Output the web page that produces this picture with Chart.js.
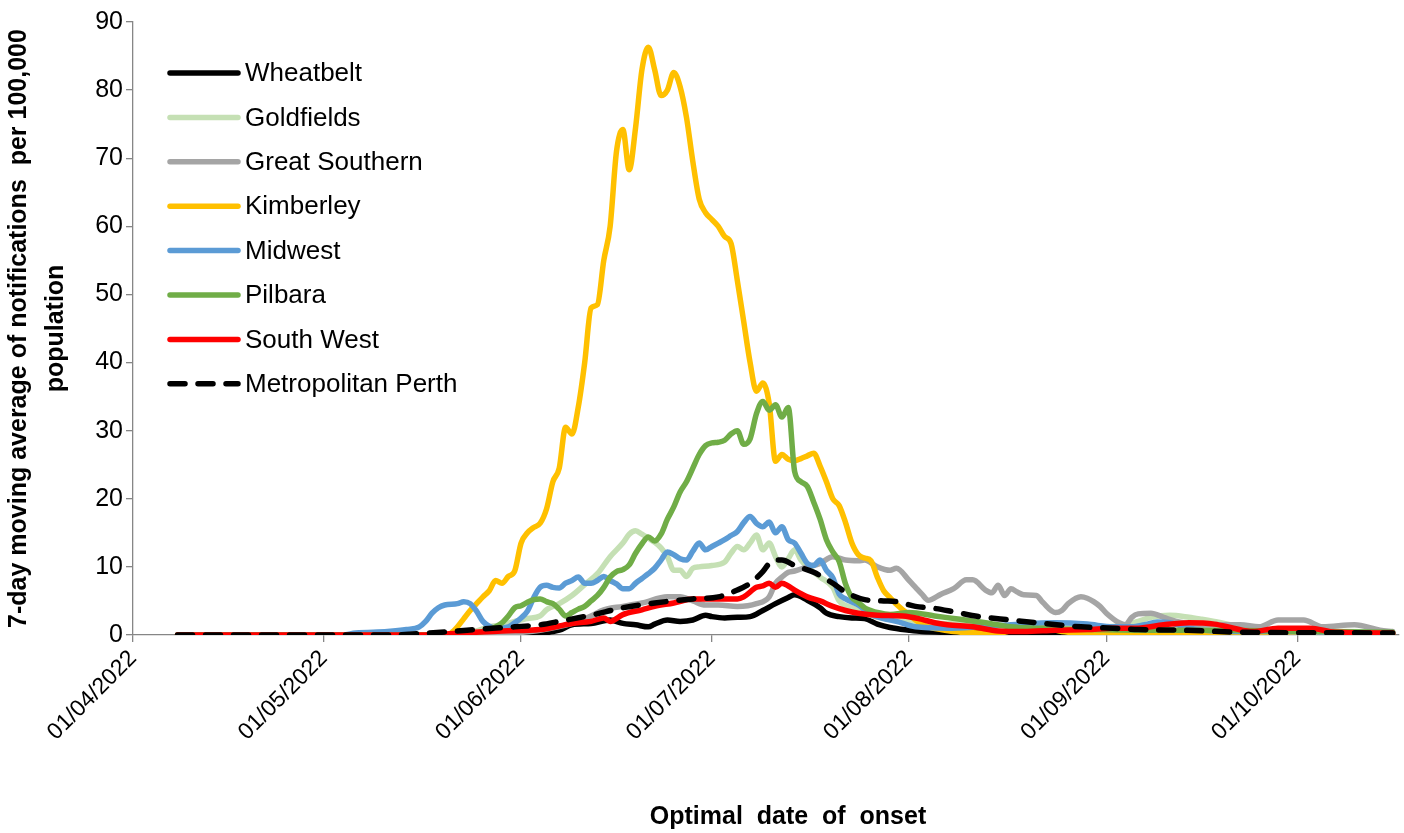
<!DOCTYPE html>
<html>
<head>
<meta charset="utf-8">
<title>7-day moving average of notifications per 100,000 population</title>
<script src="https://cdn.jsdelivr.net/npm/chart.js@4.4.1/dist/chart.umd.min.js"></script>
<style>
  html, body { margin: 0; padding: 0; background: #fff; }
  #wrap { width: 1404px; height: 833px; position: relative; }
</style>
</head>
<body>
<div id="wrap"><canvas id="myChart"></canvas></div>
<script>
// x values are days since 01/04/2022
const monthTickDays = [0, 30, 61, 91, 122, 153, 183];
const monthTickLabels = ["01/04/2022", "01/05/2022", "01/06/2022", "01/07/2022", "01/08/2022", "01/09/2022", "01/10/2022"];

const seriesNames = ["Wheatbelt", "Goldfields", "Great Southern", "Kimberley", "Midwest", "Pilbara", "South West", "Metropolitan Perth"];
const seriesColors = ["#000000", "#C5E0B4", "#A5A5A5", "#FFC000", "#5B9BD5", "#70AD47", "#FF0000", "#000000"];

// [day, value] pairs
const wheatbelt = [[7,0],[62,0],[64,0.2],[66,0.5],[67,0.7],[69,1.5],[72,1.7],[75,2.2],[77,1.7],[79,1.5],[81,1.2],[82,1.6],[84,2.2],[86,2.0],[88,2.2],[90,2.9],[91,2.7],[93,2.5],[95,2.6],[97,2.7],[99,3.6],[101,4.6],[103,5.5],[104,5.9],[106,5.1],[108,4.0],[109,3.2],[111,2.7],[113,2.5],[115,2.4],[117,1.6],[119,1.1],[122,0.7],[124,0.5],[128,0.4],[140,0.3],[198,0.2]];

const goldfields = [[7,0],[50,0],[54,0.6],[56,1.2],[58,1.5],[60,2.0],[62,2.4],[64,2.8],[65,3.7],[67,4.6],[69,5.8],[71,7.4],[73,9.0],[75,11.5],[77,13.5],[78,14.8],[79,15.3],[80,14.8],[81,14.2],[82,13.6],[83,12.8],[84,11.5],[85,9.5],[86,9.5],[87,8.6],[88,9.8],[89,10.0],[91,10.2],[93,10.7],[94,12.0],[95,13.0],[96,12.5],[97,13.5],[98,14.7],[99,12.5],[100,13.5],[101,11.5],[102,10.0],[103,11.2],[104,12.5],[105,11.0],[106,10.0],[108,8.5],[110,7.0],[111,5.0],[113,4.0],[115,3.2],[117,2.6],[120,2.2],[125,1.8],[130,1.6],[135,1.4],[140,1.4],[145,1.3],[150,1.2],[155,1.3],[158,2.0],[160,2.6],[163,2.9],[166,2.6],[168,2.3],[171,1.8],[174,1.2],[178,0.8],[185,0.6],[198,0.4]];

const greatSouthern = [[7,0],[55,0],[60,0.3],[64,0.7],[69,1.7],[72,2.8],[74,3.7],[77,4.2],[80,4.7],[84,5.6],[86,5.6],[88,5.0],[90,4.4],[92,4.4],[95,4.2],[98,4.6],[100,5.6],[101,7.6],[102,8.5],[103,9.2],[104,9.4],[106,10.0],[108,10.5],[110,11.5],[112,11.0],[114,10.9],[115,11.0],[117,10.0],[119,9.5],[120,9.8],[122,8.0],[123,7.0],[124,6.0],[125,5.1],[127,6.0],[129,6.8],[131,8.1],[132,8.1],[134,6.6],[135,6.2],[136,7.3],[137,5.8],[138,6.8],[139,6.3],[140,5.9],[142,5.8],[143,4.8],[145,3.3],[146,3.6],[147,4.6],[149,5.6],[150,5.4],[151,4.9],[152,4.2],[153,3.2],[155,1.8],[156,1.5],[157,2.6],[158,3.1],[160,3.2],[162,2.6],[164,2.0],[167,1.6],[170,1.5],[174,1.5],[177,1.2],[180,2.2],[184,2.2],[187,1.2],[192,1.5],[196,0.7],[198,0.5]];

const kimberley = [[7,0],[49,0],[50,0.3],[51,1.2],[52,2.4],[53,3.6],[54,4.6],[55,5.6],[56,6.5],[57,8.0],[58,7.6],[59,8.6],[60,9.4],[61,13.5],[62,15.0],[63,15.8],[64,16.4],[65,18.5],[66,22.5],[67,24.5],[68,30.5],[69,29.5],[70,33.5],[71,40.0],[72,48.0],[73,48.5],[74,55.0],[75,60.0],[76,71.0],[77,74.2],[78,68.3],[79,74.5],[80,83.0],[81,86.3],[82,83.0],[83,79.2],[84,80.0],[85,82.6],[86,80.5],[87,76.0],[88,69.5],[89,64.0],[90,62.0],[91,61.0],[92,60.0],[93,58.5],[94,57.5],[95,52.0],[96,46.0],[97,40.0],[98,35.8],[99,37.0],[100,34.0],[101,25.5],[102,26.5],[103,25.8],[104,25.6],[105,25.9],[106,26.3],[107,26.7],[108,24.8],[109,22.5],[110,20.0],[111,19.0],[112,16.5],[113,13.5],[114,11.8],[115,11.3],[116,10.9],[117,8.5],[118,6.5],[119,5.5],[120,4.5],[121,3.7],[122,3.0],[123,2.2],[124,1.6],[125,1.2],[127,0.8],[129,0.5],[133,0.3],[137,0.4],[139,1.0],[143,1.1],[146,0.5],[150,0.3],[198,0.2]];

const midwest = [[7,0],[33,0],[35,0.3],[40,0.5],[43,0.8],[45,1.2],[46,2.0],[47,3.2],[48,4.0],[49,4.4],[51,4.6],[52,4.9],[53,4.6],[54,3.5],[55,2.0],[56,1.3],[57,1.0],[59,1.2],[60,1.8],[61,2.5],[62,3.5],[63,5.5],[64,7.0],[65,7.3],[66,7.0],[67,6.9],[68,7.6],[69,8.0],[70,8.5],[71,7.6],[72,7.6],[73,8.0],[74,8.6],[75,8.0],[76,7.5],[77,6.8],[78,6.8],[79,7.6],[80,8.3],[81,9.0],[82,9.8],[83,11.0],[84,12.2],[85,11.8],[86,11.2],[87,11.0],[88,12.3],[89,13.5],[90,12.5],[91,13.0],[92,13.5],[93,14.0],[94,14.6],[95,15.2],[96,16.5],[97,17.4],[98,16.4],[99,15.9],[100,16.6],[101,15.0],[102,15.9],[103,14.0],[104,13.5],[105,12.0],[106,10.5],[107,10.2],[108,11.0],[109,9.5],[110,8.4],[111,6.0],[112,5.3],[114,4.4],[116,3.0],[118,2.4],[120,2.0],[123,1.2],[128,1.0],[133,1.2],[138,1.5],[145,1.8],[150,1.6],[154,1.2],[157,1.2],[159,1.5],[161,1.9],[163,1.8],[166,1.0],[170,0.6],[180,0.5],[198,0.3]];

const pilbara = [[7,0],[50,0],[54,0.3],[56,0.8],[57,1.2],[58,1.8],[59,2.8],[60,4.0],[61,4.3],[62,4.8],[63,5.2],[64,5.3],[65,4.9],[66,4.6],[67,3.8],[68,2.8],[69,3.3],[70,3.8],[71,4.2],[72,5.0],[73,5.8],[74,7.0],[75,8.5],[76,9.3],[77,9.6],[78,10.3],[79,12.0],[80,13.4],[81,14.4],[82,13.8],[83,14.8],[84,17.0],[85,18.8],[86,21.0],[87,22.5],[88,24.5],[89,26.5],[90,27.8],[91,28.2],[92,28.3],[93,28.6],[94,29.5],[95,30.0],[96,28.0],[97,28.8],[98,32.5],[99,34.3],[100,33.0],[101,33.8],[102,32.0],[103,33.4],[104,24.0],[105,22.5],[106,21.8],[107,19.5],[108,17.0],[109,14.0],[110,12.2],[111,10.8],[112,7.5],[113,5.5],[114,4.8],[115,4.0],[116,3.6],[117,3.3],[119,3.0],[122,3.3],[126,2.8],[130,2.3],[134,1.8],[138,1.2],[142,1.0],[150,0.8],[160,0.7],[170,0.7],[180,0.6],[198,0.4]];

const southWest = [[7,0],[45,0],[52,0.3],[58,0.6],[64,0.8],[69,1.7],[72,2.0],[74,2.5],[75,2.0],[77,3.0],[80,3.7],[82,4.2],[85,4.7],[88,5.3],[92,5.3],[95,5.3],[96,5.6],[98,7.0],[99,7.2],[100,7.6],[101,7.0],[102,7.6],[103,7.2],[104,6.6],[106,5.6],[108,5.0],[110,4.2],[112,3.6],[114,3.2],[117,2.9],[121,2.8],[124,2.3],[126,1.8],[128,1.5],[132,1.2],[136,0.6],[140,0.5],[145,0.7],[150,0.8],[154,1.0],[158,1.0],[162,1.5],[166,1.8],[170,1.6],[173,1.0],[176,0.5],[180,1.0],[185,1.0],[189,0.4],[198,0.3]];

const metroPerth = [[7,0],[40,0],[45,0.2],[50,0.5],[55,0.9],[60,1.2],[64,1.5],[67,2.0],[72,2.9],[77,4.0],[82,4.7],[88,5.3],[92,5.6],[95,6.6],[97,7.6],[99,9.3],[100,10.5],[101,11.0],[102,11.0],[104,10.2],[107,9.2],[110,7.6],[112,6.3],[115,5.2],[118,5.0],[120,4.9],[123,4.2],[126,3.9],[129,3.4],[133,2.7],[138,2.2],[143,1.7],[149,1.2],[154,1.0],[158,0.8],[165,0.7],[175,0.4],[198,0.3]];

const seriesData = [wheatbelt, goldfields, greatSouthern, kimberley, midwest, pilbara, southWest, metroPerth];

const FONT = '"Liberation Sans", Arial, Helvetica, sans-serif';
const axisGray = "#868686";

const datasets = seriesNames.map((name, i) => ({
  label: name,
  data: seriesData[i].map(p => ({ x: p[0], y: p[1] })),
  borderColor: seriesColors[i],
  backgroundColor: seriesColors[i],
  borderWidth: 5.5,
  borderDash: name === "Metropolitan Perth" ? [15, 13] : [],
  borderCapStyle: "round",
  borderJoinStyle: "round",
  pointRadius: 0,
  cubicInterpolationMode: "monotone",
  fill: false,
  order: seriesNames.length - i,
}));

// legend drawn inside the plot, top left
const insideLegend = {
  id: "insideLegend",
  afterDraw(chart) {
    const ctx = chart.ctx;
    const area = chart.chartArea;
    ctx.save();
    chart.data.datasets.forEach((ds, i) => {
      const y = area.top + 51 + i * 44.4;
      const x0 = area.left + 37;
      ctx.beginPath();
      ctx.setLineDash(ds.borderDash);
      ctx.lineCap = "round";
      ctx.lineWidth = ds.borderWidth;
      ctx.strokeStyle = ds.borderColor;
      ctx.moveTo(x0, y);
      ctx.lineTo(x0 + 68, y);
      ctx.stroke();
      ctx.setLineDash([]);
      ctx.fillStyle = "#000";
      ctx.font = "26px " + FONT;
      ctx.textBaseline = "middle";
      ctx.fillText(ds.label, x0 + 75, y + 1);
    });
    ctx.restore();
  },
};

// x axis title, centred like the original
const xTitle = {
  id: "xTitle",
  afterDraw(chart) {
    const ctx = chart.ctx;
    ctx.save();
    ctx.fillStyle = "#000";
    ctx.font = "bold 25px " + FONT;
    ctx.textAlign = "center";
    ctx.textBaseline = "middle";
    ctx.fillText("Optimal  date  of  onset", 788, 817);
    ctx.restore();
  },
};

const config = {
  type: "line",
  data: { datasets: datasets },
  options: {
    responsive: true,
    maintainAspectRatio: false,
    animation: false,
    layout: { padding: { top: 22, right: 5, left: 0, bottom: 0 } },
    scales: {
      x: {
        type: "linear",
        min: 0,
        max: 199,
        afterBuildTicks: (scale) => {
          scale.ticks = monthTickDays.map(v => ({ value: v }));
        },
        afterFit: (scale) => {
          scale.height = 198;
        },
        ticks: {
          autoSkip: false,
          maxRotation: 45,
          minRotation: 45,
          padding: 3,
          color: "#000",
          font: { family: FONT, size: 23 },
          callback: (value, index) => monthTickLabels[index],
        },
        grid: {
          drawOnChartArea: false,
          tickLength: 7,
          color: axisGray,
          lineWidth: 1.3,
        },
        border: { color: axisGray, width: 1.3 },
      },
      y: {
        min: 0,
        max: 90,
        afterFit: (scale) => {
          scale.width = 133;
        },
        ticks: {
          stepSize: 10,
          padding: 3,
          color: "#000",
          font: { family: FONT, size: 25 },
        },
        grid: {
          drawOnChartArea: false,
          tickLength: 7,
          color: axisGray,
          lineWidth: 1.3,
        },
        border: { color: axisGray, width: 1.3 },
        title: {
          display: true,
          text: ["7-day moving average of notifications  per 100,000", "population"],
          color: "#000",
          font: { family: FONT, size: 25, weight: "bold", lineHeight: 1.48 },
          padding: { top: 1, bottom: 0 },
        },
      },
    },
    plugins: {
      legend: { display: false },
      tooltip: { enabled: false },
    },
  },
  plugins: [insideLegend, xTitle],
};

const myChart = new Chart(document.getElementById("myChart"), config);
</script>
</body>
</html>
